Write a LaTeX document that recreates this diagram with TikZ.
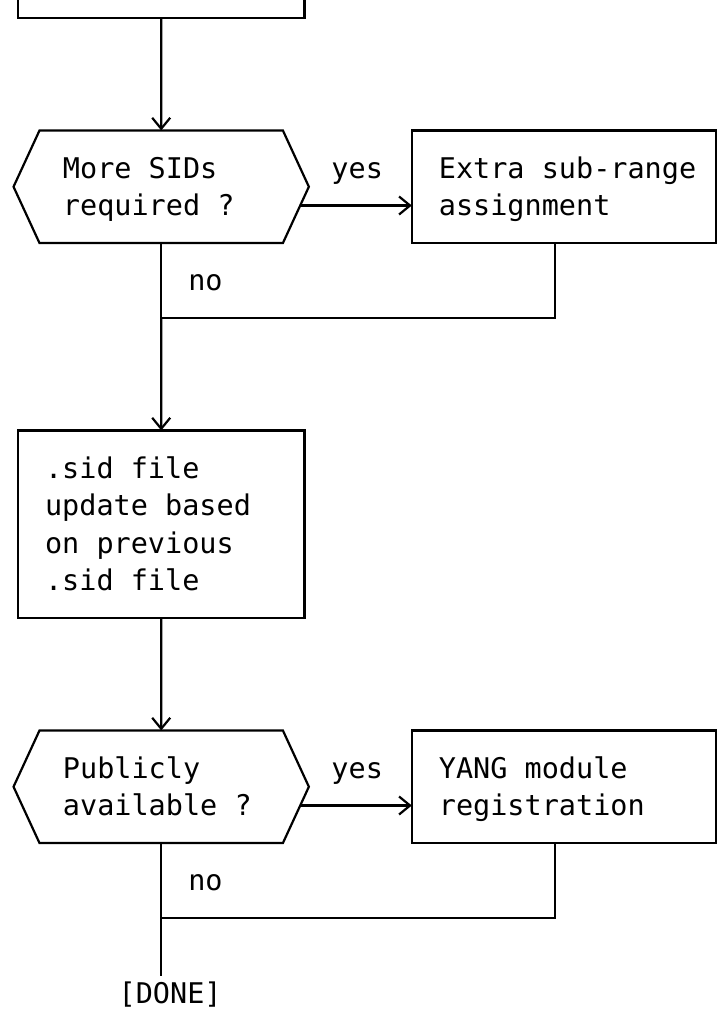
\documentclass[tikz,border=0pt]{standalone}
\usepackage{fontspec}
\newfontfamily\mono{DejaVu Sans Mono}
\usetikzlibrary{arrows.meta,calc}
\tikzset{
  lin/.style={line width=2.2pt},
  arr/.style={lin,-{Straight Barb[length=11pt,width=18pt]}},
  txt/.style={font=\mono\fontsize{28.5}{33}\selectfont,inner sep=0pt,anchor=base west},
  boxn/.style={lin,draw,rectangle,inner sep=0pt,outer sep=0pt},
}
\begin{document}
\begin{tikzpicture}[x=1pt,y=1pt,
  declare function={X(\c)=18+17.9*\c; Y(\k)=-(18+37.5*(\k-1)); L(\c)=X(\c)-8.95; B(\k)=Y(\k)-10;}]
\fill[white] (0,0) rectangle (727,-1017);
\useasboundingbox (0,0) rectangle (727,-1017);
\begin{scope}
\clip (0,0) rectangle (727,-1017);

% top (partially visible) box
\node[boxn,minimum width=286.4pt,minimum height=60pt,anchor=south west] (top) at ({X(0)},{Y(1)}) {};

% decision 1
\coordinate (h1nw) at ({X(1.2)},{Y(4)});
\coordinate (h1ne) at ({X(14.8)},{Y(4)});
\coordinate (h1e)  at ({X(16.25)},{Y(5.5)});
\coordinate (h1se) at ({X(14.8)},{Y(7)});
\coordinate (h1sw) at ({X(1.2)},{Y(7)});
\coordinate (h1w)  at ({X(-0.25)},{Y(5.5)});
\coordinate (h1n)  at ({X(8)},{Y(4)});
\coordinate (h1s)  at ({X(8)},{Y(7)});
\draw[lin] (h1nw) -- (h1ne) -- (h1e) -- (h1se) -- (h1sw) -- (h1w) -- cycle;
\node[txt] (q1a) at ({L(3)},{B(5)}) {More SIDs};
\node[txt] (q1b) at ({L(3)},{B(6)}) {required ?};

% box 1
\node[boxn,minimum width=304.3pt,minimum height=112.5pt,anchor=north west] (box1) at ({X(22)},{Y(4)}) {};
\node[txt] (b1a) at ({L(24)},{B(5)}) {Extra sub-range};
\node[txt] (b1b) at ({L(24)},{B(6)}) {assignment};

% box 2
\node[boxn,minimum width=286.4pt,minimum height=187.5pt,anchor=north west] (box2) at ({X(0)},{Y(12)}) {};
\node[txt] (b2a) at ({L(2)},{B(13)}) {.sid file};
\node[txt] (b2b) at ({L(2)},{B(14)}) {update based};
\node[txt] (b2c) at ({L(2)},{B(15)}) {on previous};
\node[txt] (b2d) at ({L(2)},{B(16)}) {.sid file};

% decision 2
\coordinate (h2nw) at ({X(1.2)},{Y(20)});
\coordinate (h2ne) at ({X(14.8)},{Y(20)});
\coordinate (h2e)  at ({X(16.25)},{Y(21.5)});
\coordinate (h2se) at ({X(14.8)},{Y(23)});
\coordinate (h2sw) at ({X(1.2)},{Y(23)});
\coordinate (h2w)  at ({X(-0.25)},{Y(21.5)});
\coordinate (h2n)  at ({X(8)},{Y(20)});
\coordinate (h2s)  at ({X(8)},{Y(23)});
\draw[lin] (h2nw) -- (h2ne) -- (h2e) -- (h2se) -- (h2sw) -- (h2w) -- cycle;
\node[txt] (q2a) at ({L(3)},{B(21)}) {Publicly};
\node[txt] (q2b) at ({L(3)},{B(22)}) {available ?};

% box 3
\node[boxn,minimum width=304.3pt,minimum height=112.5pt,anchor=north west] (box3) at ({X(22)},{Y(20)}) {};
\node[txt] (b3a) at ({L(24)},{B(21)}) {YANG module};
\node[txt] (b3b) at ({L(24)},{B(22)}) {registration};

% labels
\node[txt] (yes1) at ({L(18)},{B(5)}) {yes};
\node[txt] (no1)  at ({L(10)},{B(8)}) {no};
\node[txt] (yes2) at ({L(18)},{B(21)}) {yes};
\node[txt] (no2)  at ({L(10)},{B(24)}) {no};
\node[txt,anchor=base] (done) at ({X(8.5)},{B(27)}) {[DONE]};

% connectors
\draw[arr] (top.south) -- (h1n);
\coordinate (a1) at ($(h1e)!1/3!(h1se)$);
\draw[arr] (a1) -- (a1 -| box1.west);
\coordinate (j1)  at ({X(8)},{Y(9)});
\coordinate (j1r) at ({X(30)},{Y(9)});
\draw[lin] (h1s) -- (j1) -- (j1r) -- (j1r |- box1.south);
\draw[arr] (j1) -- (box2.north);
\draw[arr] (box2.south) -- (h2n);
\coordinate (a2) at ($(h2e)!1/3!(h2se)$);
\draw[arr] (a2) -- (a2 -| box3.west);
\coordinate (j2)  at ({X(8)},{Y(25)});
\coordinate (j2r) at ({X(30)},{Y(25)});
\draw[lin] (h2s) -- (j2) -- (j2r) -- (j2r |- box3.south);
\draw[lin,shorten >=5pt] (j2) -- (done.north -| j2);
\end{scope}
\end{tikzpicture}
\end{document}
